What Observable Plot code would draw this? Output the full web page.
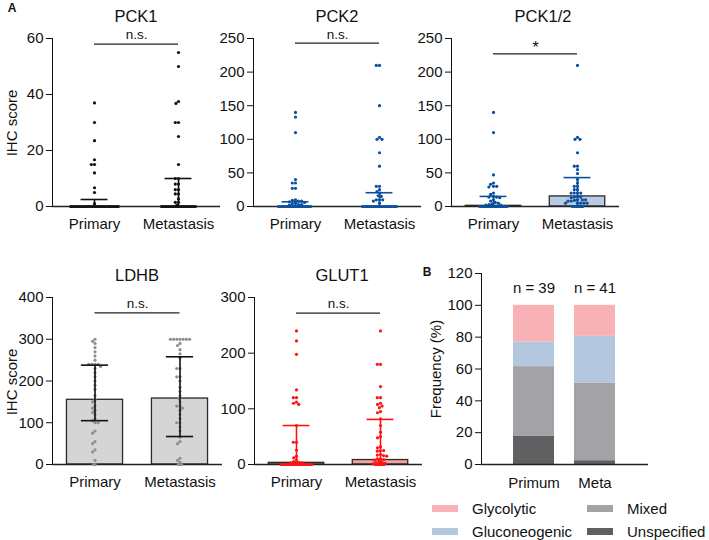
<!DOCTYPE html>
<html><head><meta charset="utf-8">
<script src="https://cdn.jsdelivr.net/npm/d3@7"></script>
<script src="https://cdn.jsdelivr.net/npm/@observablehq/plot@0.6"></script>
<style>
body{margin:0;background:#fff;font-family:Arial,"Liberation Sans",Helvetica,sans-serif;color:#111;}
#root{position:relative;width:709px;height:540px;overflow:hidden;background:#fff;}
.abs{position:absolute;white-space:nowrap;line-height:1;}
.c{transform:translate(-50%,-50%);}
.title{font-size:16.5px;}
.ylab{font-size:15px;transform:translate(-50%,-50%) rotate(-90deg);}
.panel{font-size:12px;font-weight:bold;}
.sw{position:absolute;width:26px;height:7px;}
.lt{font-size:15px;transform:translateY(-50%);}
</style></head><body><div id="root"></div>
<script>
// ---------- data ----------
const groups = ["Primary", "Metastasis"];

const pck1Primary = [37,30,23.5,16.7,15,15,12,6.7,5,1,0,0,0,0,0,0,0,0,0,0,0,0,0,0,0,0,0,0,0,0,0,0,0,0,0,0,0,0,0];
const pck1Meta = [55,50,37.5,36.8,30,30,25,15,10,10,8,8,6,6,4.5,4.5,2.7,1.5,1.5,0.5,0,0,0,0,0,0,0,0,0,0,0,0,0,0,0,0,0,0,0,0,0];
const pck1Median = [0, 0], pck1Q1 = [0, 0], pck1Q3 = [2.5, 10];

const pck2Primary = [140,133,110,40,35,35,27,27,10,9,8,8,7,6,5,4,3,3,2,0,0,0,0,0,0,0,0,0,0,0,0,0,0,0,0,0,0,0,0];
const pck2Meta = [210,210,150,103,100,100,80,60,30,30,25,22,20,16,15,10,10,10,8,5,0,0,0,0,0,0,0,0,0,0,0,0,0,0,0,0,0,0,0,0,0];
const pck2Median = [0, 0], pck2Q1 = [0, 0], pck2Q3 = [7, 20.5];

const pck12Primary = [140,110,47,35,33,30,30,29,20,18,15,14,14,13,10,8,6,5,4,3,2,2,0,0,0,0,0,0,0,0,0,0,0,0,0,0,0,0,0];
const pck12Meta = [210,103,100,100,80,60,60,55,49,40,35,30,30,25,25,20,20,20,20,15,14,14,13,10,10,10,9,8,8,5,5,5,5,5,0,0,0,0,0,0,0];
const pck12Median = [1, 15], pck12Q1 = [0, 0], pck12Q3 = [15, 43];

const ldhbPrimary = [300,295,290,280,270,260,250,240,240,240,240,235,230,220,210,200,190,180,165,155,150,140,135,130,125,120,110,105,100,100,80,75,55,50,35,30,10,0,0];
const ldhbMeta = [300,300,300,300,300,300,300,290,285,275,265,255,230,230,210,210,200,185,175,165,158,150,140,140,135,130,120,110,100,100,90,80,65,55,50,15,10,5,0,0,0];
const ldhbMedian = [155, 158], ldhbQ1 = [105, 67], ldhbQ3 = [238, 258];

const glut1Primary = [240,222,198,134,120,120,112,110,108,70,40,40,26,15,12,8,5,4,3,3,0,0,0,0,0,0,0,0,0,0,0,0,0,0,0,0,0,0,0];
const glut1Meta = [240,180,180,140,120,120,110,108,105,102,95,93,82,70,58,50,48,32,30,25,25,24,18,17,16,15,10,10,9,8,5,4,3,2,1,0,0,0,0,0,0];
const glut1Median = [3, 8], glut1Q1 = [0, 0], glut1Q3 = [70, 81];

const sigLevels = {PCK1: 58, PCK2: 243, "PCK1/2": 227, LDHB: 363, GLUT1: 272};
const sigLabels = {PCK1: "n.s.", PCK2: "n.s.", "PCK1/2": "*", LDHB: "n.s.", GLUT1: "n.s."};

const bGroups = ["Primum", "Meta"];
const bN = ["n = 39", "n = 41"];
const types = ["Unspecified", "Mixed", "Gluconeogenic", "Glycolytic"];
const primumPct = [17.9, 43.6, 15.4, 23.1];
const metaPct = [2.4, 48.8, 29.3, 19.5];
const typeColors = ["#606062", "#a2a2a7", "#b3c8df", "#f8b2b5"];

// ---------- helpers ----------
const root = document.getElementById("root");
const fontFamily = 'Arial, "Liberation Sans", Helvetica, sans-serif';
function place(el, left, top) {
  const d = document.createElement("div");
  d.style.position = "absolute"; d.style.left = left + "px"; d.style.top = top + "px";
  d.appendChild(el); root.appendChild(d);
}
function label(text, x, y, cls) {
  const d = document.createElement("div");
  d.className = "abs " + cls; d.textContent = text;
  d.style.left = x + "px"; d.style.top = y + "px";
  root.appendChild(d);
}
const rows = (p, m) => [...p.map(v => ({group: "Primary", value: v})), ...m.map(v => ({group: "Metastasis", value: v}))];
const statRows = (med, q1, q3) => groups.map((g, i) => ({group: g, median: med[i], q1: q1[i], q3: q3[i]}));

function dotPanel(o) {
  const stats = o.stats;
  const zeros = o.values.filter(d => d.value === 0);
  const others = o.values.filter(d => d.value !== 0);
  // significance bracket: from the Primary centre (x 0) across the facet boundary to the Metastasis centre
  const sigSeg = [{group: "Primary", y: o.sig, a: 0, b: 1}, {group: "Metastasis", y: o.sig, a: -1, b: 0}];
  return Plot.plot({
    width: o.width, height: o.height,
    marginLeft: o.ml, marginRight: o.mr, marginTop: o.mt, marginBottom: o.mb,
    style: {background: "transparent", fontSize: "15px", fontFamily, color: "#111", overflow: "visible"},
    fx: {domain: groups, padding: 0, axis: "bottom", tickSize: 0, tickPadding: 12, label: null},
    x: {domain: [-1, 1], axis: null},
    y: {domain: o.yDomain, ticks: o.yTicks, tickSize: 6, tickPadding: 3, line: true, label: null},
    marks: [
      Plot.rectY(stats, {fx: "group", x1: -0.66, x2: 0.66, y1: 0, y2: "median", fill: o.barFill, stroke: "#2a2a2a", strokeWidth: 1.3}),
      Plot.ruleY([0], {stroke: "#222", strokeWidth: 1.3}),
      Plot.dot(zeros, Plot.dodgeX({anchor: "middle", padding: -1.5}, {fx: "group", y: "value", r: 1.6, fill: o.dotColor})),
      Plot.dot(others, Plot.dodgeX({anchor: "middle", padding: 0}, {fx: "group", y: "value", r: 1.6, fill: o.dotColor})),
      Plot.ruleX(stats, {fx: "group", x: 0, y1: "q1", y2: "q3", stroke: o.errColor, strokeWidth: 1.6}),
      Plot.ruleY(stats, {fx: "group", y: "q3", x1: -0.32, x2: 0.32, stroke: o.errColor, strokeWidth: 1.6}),
      Plot.ruleY(stats.filter(d => d.q1 > 0), {fx: "group", y: "q1", x1: -0.32, x2: 0.32, stroke: o.errColor, strokeWidth: 1.6}),
      Plot.ruleY(sigSeg, {fx: "group", y: "y", x1: "a", x2: "b", stroke: "#222", strokeWidth: 1.3}),
      Plot.text(sigSeg.slice(0, 1), {fx: "group", y: "y", x: "b", text: () => o.sigLabel, dy: o.sigLabel === "*" ? -6 : -9, fontSize: o.sigLabel === "*" ? 16 : 13.5, fill: "#111"})
    ]
  });
}

// ---------- row 1 ----------
place(dotPanel({values: rows(pck1Primary, pck1Meta), stats: statRows(pck1Median, pck1Q1, pck1Q3),
  yDomain: [0, 60], yTicks: [0, 20, 40, 60], sig: sigLevels.PCK1, sigLabel: sigLabels.PCK1,
  dotColor: "#111", errColor: "#111", barFill: "none",
  width: 230, height: 240, ml: 52, mr: 10, mt: 38, mb: 34}), 0, 0);

place(dotPanel({values: rows(pck2Primary, pck2Meta), stats: statRows(pck2Median, pck2Q1, pck2Q3),
  yDomain: [0, 250], yTicks: [0, 50, 100, 150, 200, 250], sig: sigLevels.PCK2, sigLabel: sigLabels.PCK2,
  dotColor: "#0b4f9e", errColor: "#0b4f9e", barFill: "#b7cbe3",
  width: 230, height: 240, ml: 53, mr: 9, mt: 38, mb: 34}), 200, 0);

place(dotPanel({values: rows(pck12Primary, pck12Meta), stats: statRows(pck12Median, pck12Q1, pck12Q3),
  yDomain: [0, 250], yTicks: [0, 50, 100, 150, 200, 250], sig: sigLevels["PCK1/2"], sigLabel: sigLabels["PCK1/2"],
  dotColor: "#0b4f9e", errColor: "#0b4f9e", barFill: "#b7cbe3",
  width: 230, height: 240, ml: 50, mr: 11, mt: 38, mb: 34}), 400, 0);

// ---------- row 2 ----------
place(dotPanel({values: rows(ldhbPrimary, ldhbMeta), stats: statRows(ldhbMedian, ldhbQ1, ldhbQ3),
  yDomain: [0, 400], yTicks: [0, 100, 200, 300, 400], sig: sigLevels.LDHB, sigLabel: sigLabels.LDHB,
  dotColor: "#8e8e8e", errColor: "#111", barFill: "#d5d5d5",
  width: 232, height: 250, ml: 52, mr: 10, mt: 47, mb: 36}), 0, 250);

place(dotPanel({values: rows(glut1Primary, glut1Meta), stats: statRows(glut1Median, glut1Q1, glut1Q3),
  yDomain: [0, 300], yTicks: [0, 100, 200, 300], sig: sigLevels.GLUT1, sigLabel: sigLabels.GLUT1,
  dotColor: "#ff1414", errColor: "#ff1414", barFill: "#f5a3a3",
  width: 232, height: 250, ml: 53, mr: 10, mt: 47, mb: 36}), 200, 250);

// ---------- panel B ----------
const stackRows = [];
bGroups.forEach((g, gi) => types.forEach((t, ti) => stackRows.push({group: g, type: t, value: (gi === 0 ? primumPct : metaPct)[ti]})));
const nRows = bGroups.map((g, i) => ({group: g, label: bN[i]}));
place(Plot.plot({
  width: 230, height: 250, marginLeft: 51, marginRight: 12, marginTop: 23, marginBottom: 36,
  style: {background: "transparent", fontSize: "15px", fontFamily, color: "#111", overflow: "visible"},
  x: {domain: bGroups, paddingInner: 0.32, paddingOuter: 0.51, tickSize: 0, tickPadding: 13, label: null},
  y: {domain: [0, 120], ticks: [0, 20, 40, 60, 80, 100, 120], tickSize: 6, tickPadding: 3, line: true, label: null},
  color: {domain: types, range: typeColors},
  marks: [
    Plot.barY(stackRows, {x: "group", y: "value", fill: "type"}),
    Plot.ruleY([0], {stroke: "#222", strokeWidth: 1.3}),
    Plot.text(nRows, {x: "group", text: "label", frameAnchor: "top", dy: 9, fontSize: 15, fill: "#111"})
  ]
}), 430, 250);

// ---------- titles & labels ----------
label("A", 12, 8, "c panel");
label("B", 427, 272, "c panel");
label("PCK1", 136, 16, "c title");
label("PCK2", 337, 16, "c title");
label("PCK1/2", 543, 16, "c title");
label("LDHB", 137, 275, "c title");
label("GLUT1", 342, 275, "c title");
label("IHC score", 11, 123, "ylab");
label("IHC score", 11, 382, "ylab");
label("Frequency (%)", 435, 369, "ylab");

// legend
const legend = [
  {t: "Glycolytic", sx: 432, tx: 472, y: 508},
  {t: "Mixed", sx: 587, tx: 627, y: 508},
  {t: "Gluconeogenic", sx: 432, tx: 472, y: 531},
  {t: "Unspecified", sx: 587, tx: 627, y: 531}
];
legend.forEach(l => {
  const s = document.createElement("div");
  s.className = "sw"; s.style.left = l.sx + "px"; s.style.top = (l.y - 3.5) + "px";
  s.style.background = typeColors[types.indexOf(l.t)];
  root.appendChild(s);
  label(l.t, l.tx, l.y, "lt");
});
</script>
</body></html>
